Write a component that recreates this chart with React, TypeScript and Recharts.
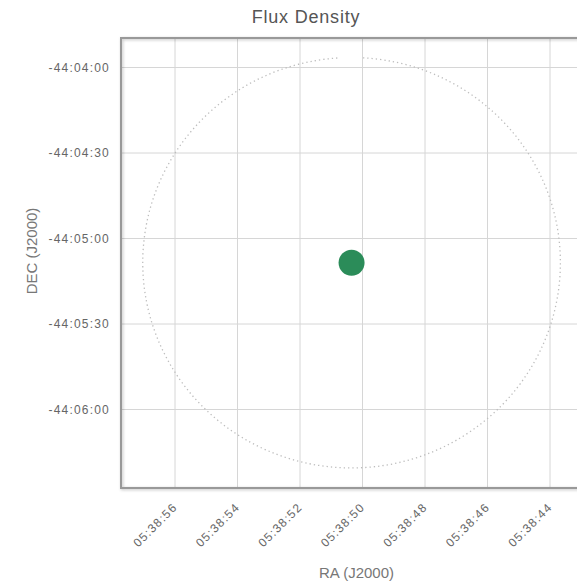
import { ScatterChart, Scatter, XAxis, YAxis, CartesianGrid, ReferenceArea } from "recharts";

// RA in seconds of time, DEC in arcseconds
const RA_TICKS = [20336, 20334, 20332, 20330, 20328, 20326, 20324];
const DEC_TICKS = [-158640, -158670, -158700, -158730, -158760];
const RA_DOMAIN = [20322.656, 20337.728];
const DEC_DOMAIN = [-158787.54, -158629.65];

const sources = [{ ra: 20330.35, dec: -158708.5 }];
const beamCenter = { ra: 20330.35, dec: -158708.5 };
const beamRadiusArcsec = 72;

const FONT = "'Liberation Sans', Arial, sans-serif";

const pad = (n: number) => String(n).padStart(2, "0");

function fmtRA(v: number) {
  const h = Math.floor(v / 3600);
  const m = Math.floor((v % 3600) / 60);
  const s = Math.round(v % 60);
  return `${pad(h)}:${pad(m)}:${pad(s)}`;
}

function fmtDEC(v: number) {
  const a = Math.abs(v);
  const d = Math.floor(a / 3600);
  const m = Math.floor((a % 3600) / 60);
  const s = Math.round(a % 60);
  return `${v < 0 ? "-" : ""}${pad(d)}:${pad(m)}:${pad(s)}`;
}

const RaTick = (props: any) => {
  const { x, y, payload } = props;
  return (
    <g transform={`translate(${x + 3},${y + 20}) rotate(-45)`}>
      <text textAnchor="end" fill="#666" fontSize={12} letterSpacing={1.2} fontFamily={FONT}>
        {fmtRA(payload.value)}
      </text>
    </g>
  );
};

const DecTick = (props: any) => {
  const { x, y, payload } = props;
  return (
    <text x={x - 11} y={y} dy="0.35em" textAnchor="end" fill="#666" fontSize={12} letterSpacing={1.2} fontFamily={FONT}>
      {fmtDEC(payload.value)}
    </text>
  );
};

// dotted beam circle inscribed in the area, small gap at the top
const BeamShape = (props: any) => {
  const { x, y, width, height } = props;
  const cx = x + width / 2;
  const cy = y + height / 2;
  const rx = Math.abs(width) / 2;
  const ry = Math.abs(height) / 2;
  const g = 0.055;
  const a0 = -Math.PI / 2 + g;
  const a1 = -Math.PI / 2 - g;
  const p = (a: number) => `${cx + rx * Math.cos(a)},${cy + ry * Math.sin(a)}`;
  return (
    <path
      d={`M${p(a0)} A${rx},${ry} 0 1 1 ${p(a1)}`}
      fill="none"
      stroke="#bdbdbd"
      strokeWidth={1.3}
      strokeDasharray="1.3 3"
    />
  );
};

const BorderShape = (props: any) => {
  const { x, y, width, height } = props;
  return (
    <rect
      x={x}
      y={y}
      width={width}
      height={height}
      fill="none"
      stroke="#999"
      strokeWidth={2}
      style={{ filter: "drop-shadow(1px 1px 1.5px rgba(0,0,0,0.25))" }}
    />
  );
};

const SourceDot = (props: any) => {
  const { cx, cy } = props;
  return <circle cx={cx} cy={cy} r={13} fill="#2b8c59" />;
};

export default function App() {
  // convert beam radius to RA seconds at this declination
  const decDeg = Math.abs(beamCenter.dec) / 3600;
  const raRadius = beamRadiusArcsec / (15 * Math.cos((decDeg * Math.PI) / 180));

  return (
    <div style={{ position: "absolute", left: 0, top: 0, width: 577, height: 584, overflow: "hidden", background: "#fff" }}>
      <ScatterChart width={612} height={584} margin={{ top: 38, right: 20, bottom: 0, left: 0 }}>
        <CartesianGrid stroke="#d6d6d6" strokeWidth={1} />
        <XAxis
          type="number"
          dataKey="ra"
          domain={RA_DOMAIN}
          ticks={RA_TICKS}
          reversed
          allowDataOverflow
          height={96}
          axisLine={false}
          tickLine={false}
          tickSize={0}
          tickMargin={0}
          interval={0}
          tick={<RaTick />}
        />
        <YAxis
          type="number"
          dataKey="dec"
          domain={DEC_DOMAIN}
          ticks={DEC_TICKS}
          allowDataOverflow
          width={121}
          axisLine={false}
          tickLine={false}
          tickSize={0}
          tickMargin={0}
          interval={0}
          tick={<DecTick />}
        />
        <ReferenceArea
          x1={beamCenter.ra - raRadius}
          x2={beamCenter.ra + raRadius}
          y1={beamCenter.dec - beamRadiusArcsec}
          y2={beamCenter.dec + beamRadiusArcsec}
          ifOverflow="visible"
          shape={<BeamShape />}
        />
        <Scatter data={sources} isAnimationActive={false} shape={<SourceDot />} />
        <ReferenceArea
          x1={RA_DOMAIN[0]}
          x2={RA_DOMAIN[1]}
          y1={DEC_DOMAIN[0]}
          y2={DEC_DOMAIN[1]}
          ifOverflow="visible"
          shape={<BorderShape />}
        />
      </ScatterChart>
      <svg width={577} height={584} style={{ position: "absolute", left: 0, top: 0, pointerEvents: "none" }}>
        <text x={306} y={23} textAnchor="middle" fill="#555" fontSize={18} letterSpacing={0.8} fontFamily={FONT}>
          Flux Density
        </text>
        <text x={356.5} y={578} textAnchor="middle" fill="#777" fontSize={15} fontFamily={FONT}>
          RA (J2000)
        </text>
        <text
          x={0}
          y={0}
          transform="translate(37,251) rotate(-90)"
          textAnchor="middle"
          fill="#777"
          fontSize={15}
          fontFamily={FONT}
        >
          DEC (J2000)
        </text>
      </svg>
    </div>
  );
}
